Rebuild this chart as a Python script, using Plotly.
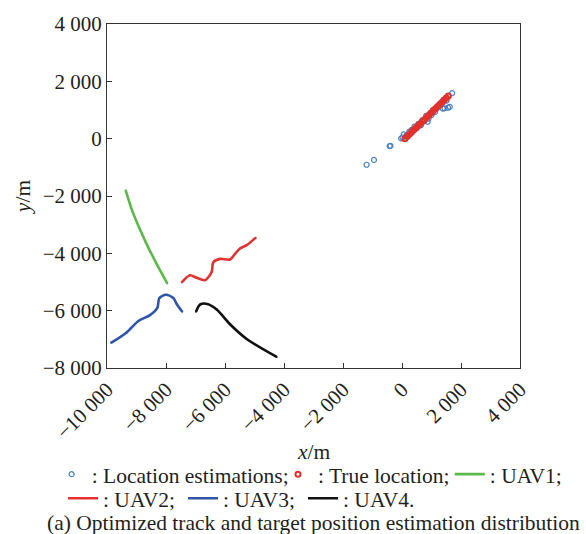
import plotly.graph_objects as go

# Target position estimates (m)
est_x = [-1200, -950, -420, -390, -30, 20, 60, 150, 250, 330, 280, 420, 500, 560, 640, 700,
         760, 820, 870, 900, 950, 1000, 1050, 1120, 1180, 1250, 1300, 1380, 1440, 1510,
         1560, 1620, 1700, 1400]
est_y = [-910, -740, -260, -250, 10, 40, 150, 110, 250, 310, 180, 420, 370, 520, 470, 650,
         610, 800, 590, 700, 880, 820, 1000, 930, 1060, 1150, 1230, 1050, 1060, 1330,
         1080, 1110, 1590, 1350]

# True target track (m)
true_x = [100, 175, 250, 320, 395, 470, 545, 615, 690, 765, 840, 910, 985, 1060, 1130,
          1205, 1280, 1350, 1425, 1500, 1570]
true_y = [0, 75, 150, 222, 298, 374, 450, 521, 597, 672, 748, 819, 895, 971, 1042,
          1118, 1193, 1264, 1340, 1415, 1485]

# Optimized UAV tracks (m)
uav1_x = [-9366, -9150, -8881, -8600, -8300, -7956]
uav1_y = [-1802, -2500, -3169, -3800, -4400, -5050]

uav2_x = [-7468, -7186, -6960, -6678, -6452, -6396, -6169, -5830, -5661, -5492, -5265, -4960]
uav2_y = [-5015, -4764, -4855, -4935, -4650, -4308, -4194, -4216, -4023, -3829, -3716, -3453]

uav3_x = [-9864, -9333, -8938, -8542, -8294, -8226, -8000, -7752, -7637, -7447]
uav3_y = [-7122, -6758, -6359, -6154, -5903, -5561, -5447, -5561, -5766, -6040]

uav4_x = [-6983, -6847, -6600, -6281, -5830, -5265, -4247]
uav4_y = [-6040, -5789, -5766, -5960, -6473, -6986, -7613]

x_ticks = [-10000, -8000, -6000, -4000, -2000, 0, 2000, 4000]
y_ticks = [-8000, -6000, -4000, -2000, 0, 2000, 4000]


def fmt(v):
    s = f"{abs(v):,}".replace(",", " ")
    return ("\u2212" + s) if v < 0 else s


FONT = "Liberation Serif, Times New Roman, serif"
TXT = "#231f20"
FS = 21.5

fig = go.Figure()
fig.add_trace(go.Scatter(x=est_x, y=est_y, mode="markers", name=": Location estimations;",
                         legend="legend",
                         marker=dict(symbol="circle-open", size=5, color="#4a80c4",
                                     line=dict(width=1.2))))
fig.add_trace(go.Scatter(x=true_x, y=true_y, mode="markers", name=": True location;",
                         legend="legend2",
                         marker=dict(symbol="circle-open", size=5, color="#e2302a",
                                     line=dict(width=2))))

uavs = [
    (uav1_x, uav1_y, "#5cb848", ": UAV1;", "legend3"),
    (uav2_x, uav2_y, "#e23232", ": UAV2;", "legend4"),
    (uav3_x, uav3_y, "#2f55aa", ": UAV3;", "legend5"),
    (uav4_x, uav4_y, "#111111", ": UAV4.", "legend6"),
]
for ux, uy, col, nm, lg in uavs:
    fig.add_trace(go.Scatter(x=ux, y=uy, mode="lines+markers", name=nm, legend=lg,
                             line=dict(color=col, width=2.6, shape="spline", smoothing=0.8),
                             marker=dict(size=2, color=col)))

axis_common = dict(showline=True, linecolor="#333333", linewidth=1, mirror=True,
                   ticks="inside", ticklen=5, tickcolor="#333333", showgrid=False,
                   zeroline=False, tickfont=dict(family=FONT, size=21, color=TXT))

fig.update_xaxes(range=[-10000, 4000], tickvals=x_ticks,
                 ticktext=[fmt(v) for v in x_ticks], tickangle=-45, **axis_common)
fig.update_yaxes(range=[-8000, 4000], tickvals=y_ticks,
                 ticktext=[fmt(v) for v in y_ticks],
                 title=dict(text="<i>y</i>/m", font=dict(family=FONT, size=FS, color=TXT),
                            standoff=6),
                 **axis_common)

fig.add_annotation(text="<i>x</i>/m", xref="paper", yref="paper", x=0.5, y=-0.243,
                   xanchor="center", yanchor="middle", showarrow=False,
                   font=dict(family=FONT, size=FS, color=TXT))
fig.add_annotation(text="(a) Optimized track and target position estimation distribution",
                   xref="paper", yref="paper", x=0.5, y=-0.452, xanchor="center",
                   yanchor="middle", showarrow=False,
                   font=dict(family=FONT, size=FS, color=TXT))

legend_common = dict(orientation="h", xanchor="left", yanchor="top",
                     font=dict(family=FONT, size=FS, color=TXT),
                     itemwidth=30, tracegroupgap=0, bgcolor="rgba(0,0,0,0)",
                     borderwidth=0)
ROW1, ROW2 = -0.249, -0.319

fig.update_layout(
    width=586, height=534,
    margin=dict(l=107, r=66, t=17, b=166),
    plot_bgcolor="white", paper_bgcolor="white",
    font=dict(family=FONT, size=FS, color=TXT),
    legend=dict(x=-0.134, y=ROW1, **legend_common),
    legend2=dict(x=0.414, y=ROW1, **legend_common),
    legend3=dict(x=0.83, y=ROW1, **legend_common),
    legend4=dict(x=-0.1065, y=ROW2, **legend_common),
    legend5=dict(x=0.184, y=ROW2, **legend_common),
    legend6=dict(x=0.4746, y=ROW2, **legend_common),
    showlegend=True,
)

fig.write_html("out.html")
